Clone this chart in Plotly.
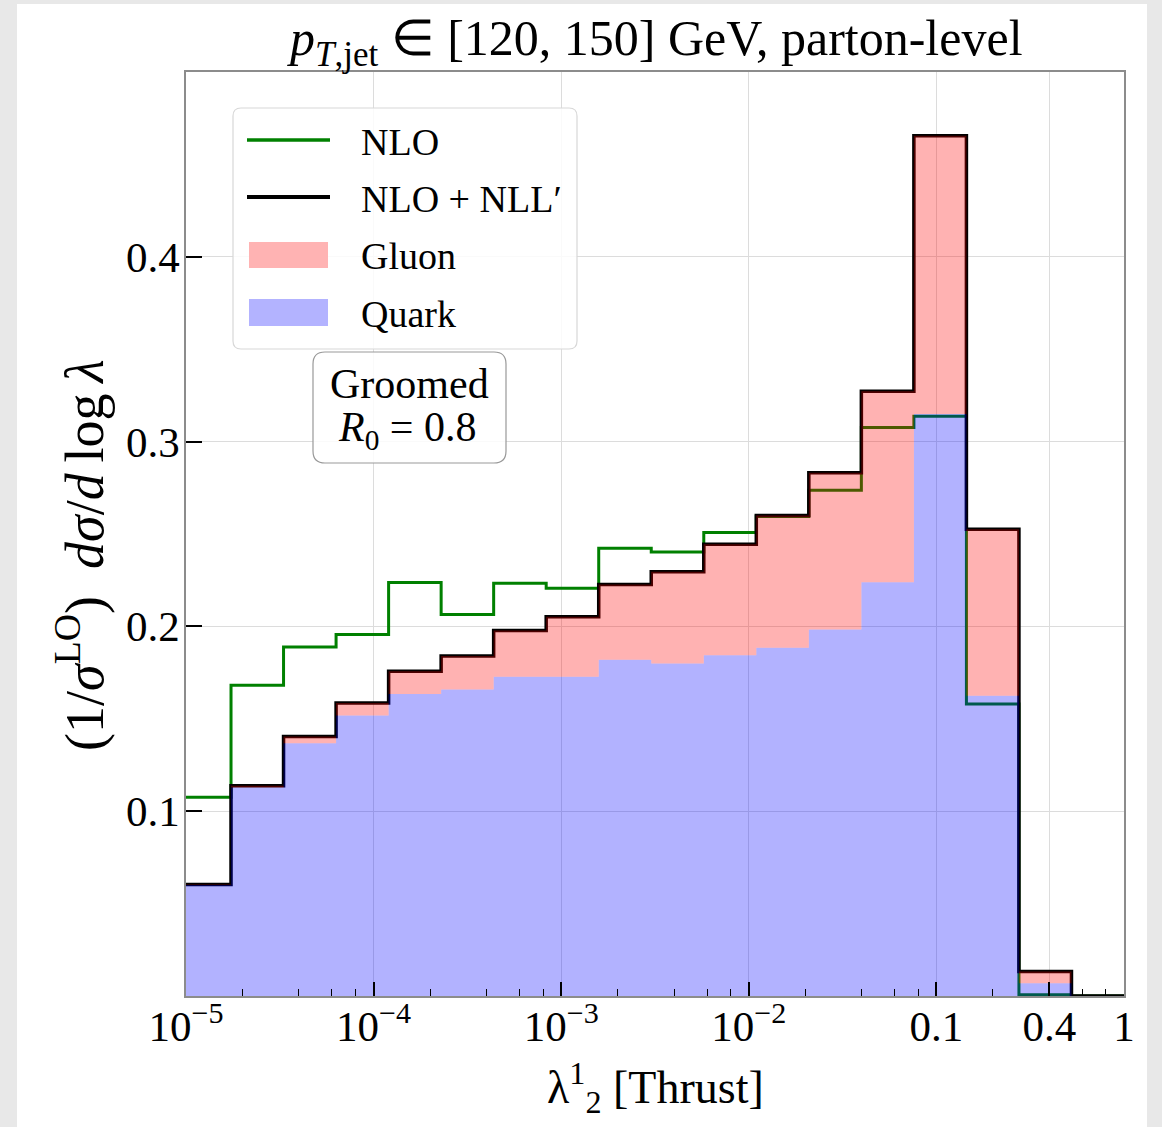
import plotly.graph_objects as go

# ---------------- data ----------------
# bin edges as log10(lambda)
edge_exponents = [-5.04, -4.76, -4.48, -4.20, -3.92, -3.64, -3.36, -3.08, -2.80, -2.52,
                  -2.24, -1.96, -1.68, -1.40, -1.12, -0.84, -0.56, -0.28, 0.0]
nlo = [0.1075, 0.1681, 0.1889, 0.1956, 0.2237, 0.2065, 0.2233, 0.2206, 0.2423, 0.2403,
       0.2508, 0.2595, 0.2737, 0.3076, 0.3137, 0.1580, 0.0007, 0.0]
nlo_nll = [0.0603, 0.1138, 0.1404, 0.1585, 0.1757, 0.1840, 0.1978, 0.2052, 0.2227, 0.2296,
           0.2444, 0.2600, 0.2832, 0.3272, 0.4655, 0.2526, 0.0133, 0.0]
quark = [0.0600, 0.1128, 0.1368, 0.1518, 0.1634, 0.1658, 0.1727, 0.1727, 0.1819, 0.1799,
         0.1844, 0.1884, 0.1983, 0.2239, 0.3150, 0.1625, 0.0069, 0.0]
gluon = [0.0003, 0.0010, 0.0036, 0.0067, 0.0123, 0.0182, 0.0251, 0.0325, 0.0408, 0.0497,
         0.0600, 0.0716, 0.0849, 0.1033, 0.1505, 0.0901, 0.0064, 0.0]

x_tickvals = [1e-5, 1e-4, 1e-3, 1e-2, 0.1, 0.4, 1]
x_ticktext = ["10<sup>−5</sup>", "10<sup>−4</sup>", "10<sup>−3</sup>", "10<sup>−2</sup>", "0.1", "0.4", "1"]
y_tickvals = [0.1, 0.2, 0.3, 0.4]
y_ticktext = ["0.1", "0.2", "0.3", "0.4"]
minor_mult = [2, 4, 6, 8]
minor_decades = [1e-5, 1e-4, 1e-3, 1e-2, 1e-1]

# ---------------- helpers ----------------
W, H = 1162, 1127
L, R, T, B = 186, 38, 72, 131
PW, PH = W - L - R, H - T - B
FONT = "Liberation Serif"


def px(x):
    return (x - L) / PW


def py(y):
    return (H - B - y) / PH


def rounded_rect(x0, y0, x1, y1, r):
    rx, ry = r / PW, r / PH
    a, b, c, d = px(x0), py(y1), px(x1), py(y0)
    return (f"M {a+rx},{b} L {c-rx},{b} Q {c},{b} {c},{b+ry} L {c},{d-ry} "
            f"Q {c},{d} {c-rx},{d} L {a+rx},{d} Q {a},{d} {a},{d-ry} "
            f"L {a},{b+ry} Q {a},{b} {a+rx},{b} Z")


edges = [10 ** e for e in edge_exponents]


def stepy(vals):
    return list(vals) + [vals[-1]]


gluon_top = [q + g for q, g in zip(quark, gluon)]

fig = go.Figure()

# lines first (fills with alpha drawn on top, like the reference)
fig.add_trace(go.Scatter(x=edges, y=stepy(nlo), mode="lines", line_shape="hv",
                         line=dict(color="#008000", width=3), name="NLO", showlegend=False))
fig.add_trace(go.Scatter(x=edges, y=stepy(nlo_nll), mode="lines", line_shape="hv",
                         line=dict(color="black", width=3.5), name="NLO + NLL′", showlegend=False))
fig.add_trace(go.Scatter(x=edges, y=stepy(quark), mode="lines", line_shape="hv",
                         line=dict(width=0, color="rgba(0,0,255,0)"), fill="tozeroy",
                         fillcolor="rgba(0,0,255,0.3)", name="Quark", showlegend=False))
fig.add_trace(go.Scatter(x=edges, y=stepy(gluon_top), mode="lines", line_shape="hv",
                         line=dict(width=0, color="rgba(255,0,0,0)"), fill="tonexty",
                         fillcolor="rgba(255,0,0,0.3)", name="Gluon", showlegend=False))

minor_vals = [m * d for d in minor_decades for m in minor_mult]

fig.update_xaxes(type="log", range=[-5, 0], tickvals=x_tickvals, ticktext=x_ticktext,
                 ticks="inside", ticklen=14, tickwidth=1.5, tickcolor="black",
                 showgrid=True, gridcolor="#dcdcdc", gridwidth=1,
                 showline=True, linecolor="#8c8c8c", linewidth=1.5, mirror=True,
                 zeroline=False, ticklabelstandoff=-8,
                 tickfont=dict(family=FONT, size=43, color="black"),
                 minor=dict(tickvals=minor_vals, ticks="inside", ticklen=7, tickwidth=1.2,
                            tickcolor="black", showgrid=False))
fig.update_yaxes(range=[0, 0.5], tickvals=y_tickvals, ticktext=y_ticktext,
                 ticks="inside", ticklen=16, tickwidth=1.5, tickcolor="black",
                 showgrid=True, gridcolor="#dcdcdc", gridwidth=1,
                 showline=True, linecolor="#8c8c8c", linewidth=1.5, mirror=True,
                 zeroline=False, ticklabelstandoff=-4,
                 tickfont=dict(family=FONT, size=43, color="black"))

shapes = []
# white page on gray frame
shapes.append(dict(type="rect", xref="paper", yref="paper", layer="below",
                   x0=px(17), x1=px(1147), y0=py(1200), y1=py(4),
                   fillcolor="white", line=dict(width=0)))
# legend box
shapes.append(dict(type="path", xref="paper", yref="paper", path=rounded_rect(233, 108, 577, 349, 8),
                   fillcolor="rgba(255,255,255,0.85)", line=dict(color="#d8d8d8", width=1.2)))
shapes.append(dict(type="line", xref="paper", yref="paper", x0=px(247), x1=px(330), y0=py(140), y1=py(140),
                   line=dict(color="#008000", width=3.5)))
shapes.append(dict(type="line", xref="paper", yref="paper", x0=px(247), x1=px(330), y0=py(197), y1=py(197),
                   line=dict(color="black", width=4)))
shapes.append(dict(type="rect", xref="paper", yref="paper", x0=px(249), x1=px(328), y0=py(268), y1=py(242),
                   fillcolor="#ffb3b3", line=dict(width=0)))
shapes.append(dict(type="rect", xref="paper", yref="paper", x0=px(249), x1=px(328), y0=py(326), y1=py(299),
                   fillcolor="#b3b3ff", line=dict(width=0)))
# groomed box
shapes.append(dict(type="path", xref="paper", yref="paper", path=rounded_rect(313, 352, 506, 463, 12),
                   fillcolor="rgba(255,255,255,0.85)", line=dict(color="#999999", width=1.2)))

annotations = []
for txt, yc in [("NLO", 142), ("NLO + NLL′", 199), ("Gluon", 256), ("Quark", 314)]:
    annotations.append(dict(text=txt, xref="paper", yref="paper", x=px(359), y=py(yc),
                            xanchor="left", yanchor="middle", showarrow=False,
                            font=dict(family=FONT, size=38, color="black")))
annotations.append(dict(text="Groomed", xref="paper", yref="paper", x=px(409), y=py(384),
                        xanchor="center", yanchor="middle", showarrow=False,
                        font=dict(family=FONT, size=42, color="black")))
annotations.append(dict(text="<i>R</i><sub>0</sub> = 0.8", xref="paper", yref="paper", x=px(407), y=py(430),
                        xanchor="center", yanchor="middle", showarrow=False,
                        font=dict(family=FONT, size=42, color="black")))
# title
annotations.append(dict(text="<i>p</i><sub><i>T</i>,jet</sub> ∈ [120, 150] GeV, parton-level",
                        xref="paper", yref="paper", x=px(655), y=py(42),
                        xanchor="center", yanchor="middle", showarrow=False,
                        font=dict(family=FONT, size=50, color="black")))
# axis titles
annotations.append(dict(text="λ<sup>1</sup><sub>2</sub> [Thrust]",
                        xref="paper", yref="paper", x=px(655), y=py(1087),
                        xanchor="center", yanchor="middle", showarrow=False,
                        font=dict(family=FONT, size=46, color="black")))
annotations.append(dict(text="(1/<i>σ</i><sup>LO</sup>)\u2002<i>dσ</i>/<i>d</i>\u2009log\u2009<i>λ</i>",
                        xref="paper", yref="paper", x=px(80), y=py(555), textangle=-90,
                        xanchor="center", yanchor="middle", showarrow=False,
                        font=dict(family=FONT, size=54, color="black")))

fig.update_layout(width=W, height=H, margin=dict(l=L, r=R, t=T, b=B, autoexpand=False),
                  paper_bgcolor="#e8e8e8", plot_bgcolor="white",
                  shapes=shapes, annotations=annotations, showlegend=False)

fig.write_html("out.html", config={"displayModeBar": False},
               post_script="document.body.style.margin='0';document.body.style.background='#e8e8e8';")
